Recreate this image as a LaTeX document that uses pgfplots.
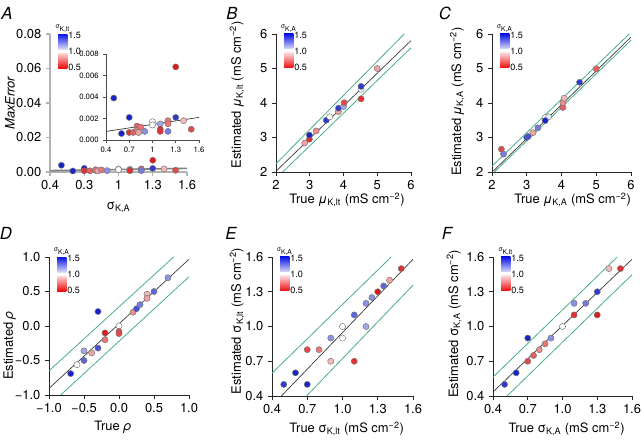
\documentclass[border=0pt]{standalone}
\usepackage{fontspec}
\setmainfont{TeX Gyre Heros}
\usepackage{pgfplots}
\pgfplotsset{compat=1.18}

\definecolor{lgreen}{RGB}{70,175,135}
\definecolor{cbblue}{RGB}{10,20,230}
\definecolor{cbltblue}{RGB}{220,220,248}
\definecolor{cbpink}{RGB}{250,215,215}
\definecolor{cbred}{RGB}{240,10,10}

\newcommand{\fs}{\fontsize{9.7}{11}\selectfont}
\pgfplotsset{
 panel/.style={
  scale only axis, anchor=south west, axis lines=left,
  axis line style={-, line width=0.6pt, black!85},
  tick align=outside, tick style={black!85, line width=0.6pt}, major tick length=3pt,
  /pgf/number format/assume math mode=true,
  scaled x ticks=false, scaled y ticks=false,
  tick label style={font=\fs},
  label style={font=\fs},
  clip=false,
  colormap={rwb}{rgb255=(225,25,25) rgb255=(255,255,255) rgb255=(25,35,205)},
  point meta min=0.5, point meta max=1.5,
 },
 pts/.style={scatter, only marks, mark=*, mark size=2.3pt, scatter src=explicit,
   scatter/use mapped color={draw=black!55, fill=mapped color}, mark options={line width=0.35pt}},
 refl/.style={black!80, line width=0.5pt},
 grl/.style={lgreen, line width=0.6pt},
 dec1/.style={/pgf/number format/.cd, fixed, fixed zerofill, precision=1},
}

\newcommand{\cbar}[2]{%
 \shade[top color=cbblue, bottom color=cbltblue] ([shift={(6pt,0pt)}]#1.north west) rectangle ([shift={(13pt,-11.25pt)}]#1.north west);
 \shade[top color=cbpink, bottom color=cbred] ([shift={(6pt,-14.25pt)}]#1.north west) rectangle ([shift={(13pt,-25.5pt)}]#1.north west);
 \node[anchor=west, inner sep=0.6pt, font=\fontsize{6.8}{7}\selectfont] at ([shift={(13pt,-1.2pt)}]#1.north west) {1.5};
 \node[anchor=west, inner sep=0.6pt, font=\fontsize{6.8}{7}\selectfont] at ([shift={(13pt,-12.8pt)}]#1.north west) {1.0};
 \node[anchor=west, inner sep=0.6pt, font=\fontsize{6.8}{7}\selectfont] at ([shift={(13pt,-25pt)}]#1.north west) {0.5};
 \node[anchor=south, inner sep=0.5pt, font=\fontsize{5}{5}\selectfont] at ([shift={(9.5pt,0.6pt)}]#1.north west) {σ\textsubscript{#2}};
}

\pgfplotstableread{
x y c
0.5 0.0039 1.5
0.6 0.0006 1.5
0.7 0.0021 1.5
0.7 0.0007 0.55
0.75 0.0007 0.65
0.8 0.0013 0.65
0.8 0.0009 0.7
0.82 0.0007 0.8
0.85 0.0012 0.7
0.9 0.0008 1.25
1.0 0.0017 1.0
1.0 0.0014 1.0
1.1 0.0015 1.2
1.1 0.0010 0.5
1.1 0.0008 0.55
1.2 0.0018 0.7
1.2 0.0015 0.7
1.2 0.0008 1.3
1.3 0.0068 0.5
1.3 0.0021 1.45
1.4 0.0018 0.85
1.5 0.0010 0.6
}\dataA

\pgfplotstableread{
x y c
2.85 2.84 0.8
2.99 2.95 0.55
2.99 3.07 1.5
3.19 3.19 0.75
3.49 3.50 1.45
3.59 3.60 1.0
3.85 3.75 0.8
3.85 3.85 1.45
4.0 3.9 1.2
4.02 4.01 0.6
4.52 4.40 1.0
4.52 4.48 1.45
4.52 4.12 0.55
5.0 5.0 0.8
}\dataB

\pgfplotstableread{
x y c
2.27 2.66 0.6
2.33 2.52 1.3
3.0 3.0 1.45
3.04 3.03 1.4
3.18 3.14 0.8
3.32 3.28 1.3
3.53 3.58 1.0
3.63 3.60 1.05
3.53 3.49 1.5
4.04 3.87 0.65
4.04 4.01 0.75
4.08 4.14 0.85
4.52 4.60 1.45
5.0 4.99 0.65
}\dataC

\pgfplotstableread{
x y c
-0.30 0.21 1.5
-0.5 -0.36 1.2
-0.5 -0.50 1.35
-0.39 -0.39 0.8
-0.30 -0.32 1.4
-0.6 -0.56 1.0
-0.69 -0.69 1.5
-0.2 -0.10 0.5
-0.2 -0.2 0.7
0.0 0.0 1.0
0.0 -0.08 0.6
0.0 -0.11 0.6
0.2 0.2 0.75
0.25 0.25 1.4
0.3 0.31 1.3
0.4 0.46 0.85
0.4 0.40 0.8
0.5 0.5 1.35
0.7 0.7 1.25
}\dataD

\pgfplotstableread{
x y c
0.5 0.5 1.45
0.6 0.6 1.5
0.7 0.5 1.5
0.7 0.8 0.6
0.8 0.8 0.7
0.9 0.9 1.25
0.9 0.7 0.85
1.0 1.0 1.0
1.0 0.9 1.0
1.1 1.1 1.35
1.1 0.7 0.55
1.2 1.2 1.25
1.2 1.0 1.2
1.25 1.25 1.25
1.3 1.3 0.5
1.35 1.35 1.35
1.4 1.4 0.8
1.5 1.5 0.55
}\dataE

\pgfplotstableread{
x y c
0.5 0.5 1.45
0.6 0.6 1.5
0.7 0.9 1.5
0.7 0.7 0.6
0.75 0.75 0.65
0.8 0.8 0.75
0.85 0.85 0.7
0.9 0.9 1.25
1.0 1.0 1.0
1.1 1.2 1.25
1.1 1.1 0.55
1.2 1.2 1.3
1.3 1.3 1.45
1.3 1.1 0.5
1.4 1.5 0.85
1.5 1.5 0.55
}\dataF

\begin{document}
\begin{tikzpicture}
\path[use as bounding box] (0,0) rectangle (481.5pt,329.25pt);

% ---------- A ----------
\begin{axis}[panel, name=A, at={(37.5pt,200.25pt)}, width=102.75pt, height=103.5pt,
 xmin=0.4, xmax=1.6, ymin=0, ymax=0.08,
 xtick={0.4,0.7,1,1.3,1.6}, xticklabels={0.4,0.3,1,1.3,1.6},
 ytick={0,0.02,0.04,0.06,0.08},
 yticklabel style={/pgf/number format/.cd, fixed, fixed zerofill, precision=2},
 axis line style={-, gray!60, line width=1.4pt}, tick style={gray!60, line width=1pt},
 ylabel={\textit{MaxError}}, xlabel={σ\textsubscript{K,A}},
 ylabel style={at={(axis description cs:-0.292,0.5)}, anchor=center},
 xlabel style={at={(axis description cs:0.5,-0.254)}, anchor=center}]
\addplot[gray, line width=1.2pt] coordinates {(0.4,0.0008) (1.6,0.0021)};
\addplot[pts] table[x=x, y=y, meta=c] {\dataA};
\end{axis}
\begin{axis}[panel, name=Ai, at={(79.5pt,224.25pt)}, width=69.75pt, height=64.5pt,
 xmin=0.4, xmax=1.6, ymin=0, ymax=0.008,
 xtick={0.4,0.7,1,1.3,1.6}, xticklabels={0.4,0.7,1,1.3,1.6},
 ytick={0,0.002,0.004,0.006,0.008},
 tick label style={font=\fontsize{5.8}{6}\selectfont},
 xticklabel style={yshift=0.5pt},
 yticklabel style={/pgf/number format/.cd, fixed, fixed zerofill, precision=3},
 axis line style={-, black!70, line width=0.5pt}, tick style={black!70, line width=0.5pt}, major tick length=2pt]
\addplot[refl] coordinates {(0.4,0.0008) (1.6,0.0021)};
\addplot[pts] table[x=x, y=y, meta=c] {\dataA};
\end{axis}
\cbar{A}{K,lt}

% ---------- B ----------
\begin{axis}[panel, name=B, at={(207pt,200.25pt)}, width=101.25pt, height=103.5pt,
 xmin=2, xmax=6, ymin=2, ymax=6, xtick={2,3,4,5,6}, ytick={2,3,4,5,6},
 xlabel={True \textit{μ}\textsubscript{K,lt} (mS cm\textsuperscript{−2})},
 ylabel={Estimated \textit{μ}\textsubscript{K,lt} (mS cm\textsuperscript{−2})},
 ylabel style={at={(axis description cs:-0.289,0.56)}, anchor=center},
 xlabel style={at={(axis description cs:0.526,-0.203)}, anchor=center}]
\addplot[grl] coordinates {(2,2.24) (5.8,6.0)};
\addplot[grl] coordinates {(2.2,2.0) (6.0,5.6)};
\addplot[refl] coordinates {(2.03,2.05) (6.0,5.81)};
\addplot[pts] table[x=x, y=y, meta=c] {\dataB};
\end{axis}
\cbar{B}{K,A}

% ---------- C ----------
\begin{axis}[panel, name=C, at={(369pt,200.25pt)}, width=104.25pt, height=103.5pt,
 xmin=2, xmax=6, ymin=2, ymax=6, xtick={2,3,4,5,6}, ytick={2,3,4,5,6},
 xlabel={True \textit{μ}\textsubscript{K,A} (mS cm\textsuperscript{−2})},
 ylabel={Estimated \textit{μ}\textsubscript{K,A} (mS cm\textsuperscript{−2})},
 ylabel style={at={(axis description cs:-0.25,0.51)}, anchor=center},
 xlabel style={at={(axis description cs:0.58,-0.203)}, anchor=center}]
\addplot[grl] coordinates {(2,2.17) (5.95,6.0)};
\addplot[grl] coordinates {(2.07,2.0) (6.0,5.82)};
\addplot[refl] coordinates {(2.04,2.03) (6.0,5.91)};
\addplot[pts] table[x=x, y=y, meta=c] {\dataC};
\end{axis}
\cbar{C}{K,A}

% ---------- D ----------
\begin{axis}[panel, name=D, at={(36.75pt,33pt)}, width=105pt, height=103.5pt,
 xmin=-1, xmax=1, ymin=-1, ymax=1,
 xtick={-1,-0.5,0,0.5,1}, xticklabels={−1.0,−0.5,0.0,0.5,1.0},
 ytick={-1,-0.5,0,0.5,1}, yticklabels={−1.0,−0.5,0.0,0.5,1.0},
 xlabel={True \textit{ρ}}, ylabel={Estimated \textit{ρ}},
 ylabel style={at={(axis description cs:-0.28,0.36)}, anchor=center},
 xlabel style={at={(axis description cs:0.457,-0.232)}, anchor=center}]
\addplot[grl] coordinates {(-1,-0.65) (0.78,1.0)};
\addplot[grl] coordinates {(-0.833,-1) (1,0.714)};
\addplot[refl] coordinates {(-1,-0.905) (1,0.967)};
\addplot[pts] table[x=x, y=y, meta=c] {\dataD};
\end{axis}
\cbar{D}{K,A}

% ---------- E ----------
\begin{axis}[panel, name=E, at={(204pt,32.25pt)}, width=105.75pt, height=104.25pt,
 xmin=0.4, xmax=1.6, ymin=0.4, ymax=1.6,
 xtick={0.4,0.7,1.0,1.3,1.6}, ytick={0.4,0.7,1.0,1.3,1.6},
 xticklabel style={dec1}, yticklabel style={dec1},
 xlabel={True σ\textsubscript{K,lt} (mS cm\textsuperscript{−2})},
 ylabel={Estimated σ\textsubscript{K,lt} (mS cm\textsuperscript{−2})},
 ylabel style={at={(axis description cs:-0.248,0.54)}, anchor=center},
 xlabel style={at={(axis description cs:0.53,-0.237)}, anchor=center}]
\addplot[grl] coordinates {(0.4,0.597) (1.414,1.6)};
\addplot[grl] coordinates {(0.694,0.4) (1.6,1.357)};
\addplot[refl] coordinates {(0.48,0.4) (1.6,1.58)};
\addplot[pts] table[x=x, y=y, meta=c] {\dataE};
\end{axis}
\cbar{E}{K,A}

% ---------- F ----------
\begin{axis}[panel, name=F, at={(369.75pt,32.25pt)}, width=104.25pt, height=104.25pt,
 xmin=0.4, xmax=1.6, ymin=0.4, ymax=1.6,
 xtick={0.4,0.7,1.0,1.3,1.6}, ytick={0.4,0.7,1.0,1.3,1.6},
 xticklabel style={dec1}, yticklabel style={dec1},
 xlabel={True σ\textsubscript{K,A} (mS cm\textsuperscript{−2})},
 ylabel={Estimated σ\textsubscript{K,A} (mS cm\textsuperscript{−2})},
 ylabel style={at={(axis description cs:-0.28,0.52)}, anchor=center},
 xlabel style={at={(axis description cs:0.53,-0.237)}, anchor=center}]
\addplot[grl] coordinates {(0.4,0.563) (1.472,1.6)};
\addplot[grl] coordinates {(0.521,0.4) (1.6,1.447)};
\addplot[refl] coordinates {(0.4,0.435) (1.6,1.58)};
\addplot[pts] table[x=x, y=y, meta=c] {\dataF};
\end{axis}
\cbar{F}{K,lt}

% panel letters
\begin{scope}[every node/.style={font=\fontsize{12.5}{13}\selectfont\itshape, inner sep=0pt}]
\node at (5.25pt,319.5pt) {A};
\node at (174pt,319.5pt) {B};
\node at (333.75pt,319.5pt) {C};
\node at (4.5pt,154.5pt) {D};
\node at (173.25pt,154.5pt) {E};
\node at (335.25pt,154.5pt) {F};
\end{scope}
\end{tikzpicture}
\end{document}
